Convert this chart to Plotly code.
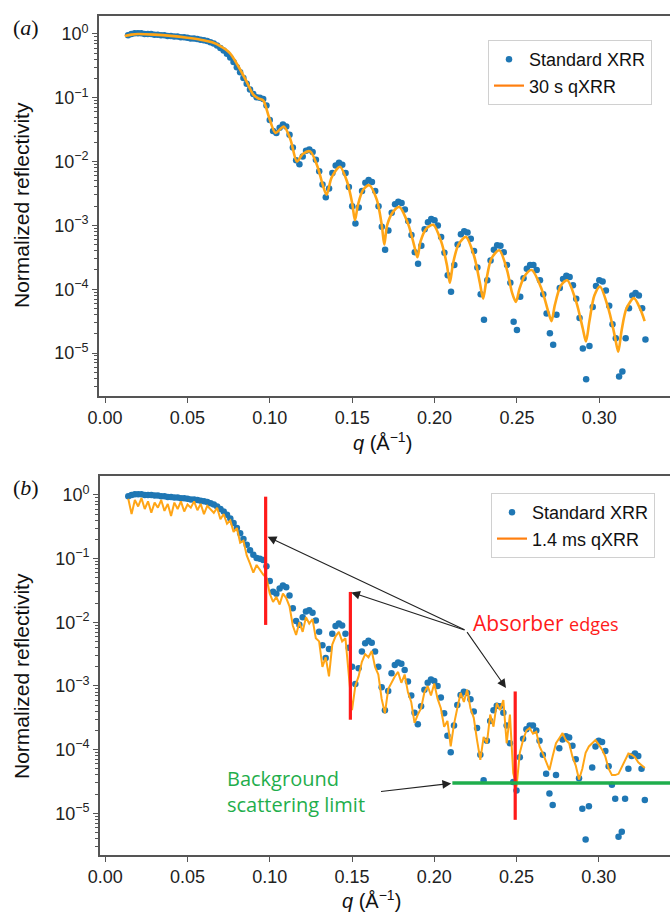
import plotly.graph_objects as go

# ---------------- data ----------------
# momentum transfer grid of the standard XRR scan (1/Angstrom)
Q = [0.014, 0.016, 0.018, 0.020, 0.022, 0.024, 0.026, 0.028, 0.030, 0.032,
     0.034, 0.036, 0.038, 0.040, 0.042, 0.044, 0.046, 0.048, 0.050, 0.052,
     0.054, 0.056, 0.058, 0.060, 0.062, 0.064, 0.066, 0.068, 0.070, 0.072,
     0.074, 0.076, 0.078, 0.080, 0.082, 0.084, 0.086, 0.088, 0.090, 0.092,
     0.094, 0.096, 0.098, 0.100, 0.102, 0.104, 0.106, 0.108, 0.110, 0.112,
     0.114, 0.116, 0.118, 0.120, 0.122, 0.124, 0.126, 0.128, 0.130, 0.132,
     0.134, 0.136, 0.138, 0.140, 0.142, 0.144, 0.146, 0.148, 0.150, 0.152,
     0.154, 0.156, 0.158, 0.160, 0.162, 0.164, 0.166, 0.168, 0.170, 0.172,
     0.174, 0.176, 0.178, 0.180, 0.182, 0.184, 0.186, 0.188, 0.190, 0.192,
     0.194, 0.196, 0.198, 0.200, 0.202, 0.204, 0.206, 0.208, 0.210, 0.212,
     0.214, 0.216, 0.218, 0.220, 0.222, 0.224, 0.226, 0.228, 0.230, 0.232,
     0.234, 0.236, 0.238, 0.240, 0.242, 0.244, 0.246, 0.248, 0.250, 0.252,
     0.254, 0.256, 0.258, 0.260, 0.262, 0.264, 0.266, 0.268, 0.270, 0.272,
     0.274, 0.276, 0.278, 0.280, 0.282, 0.284, 0.286, 0.288, 0.290, 0.292,
     0.294, 0.296, 0.298, 0.300, 0.302, 0.304, 0.306, 0.308, 0.310, 0.312,
     0.314, 0.316, 0.318, 0.320, 0.322, 0.324, 0.326, 0.328]

# log10 of normalized reflectivity, standard XRR
LOG_R_STANDARD = [
    -0.02, 0.00, 0.01, 0.01, 0.01, 0.00, 0.00, 0.00, -0.01, -0.01,
    -0.02, -0.02, -0.03, -0.03, -0.04, -0.04, -0.05, -0.05, -0.06, -0.07,
    -0.07, -0.08, -0.09, -0.10, -0.11, -0.13, -0.15, -0.18, -0.22, -0.26,
    -0.31, -0.37, -0.44, -0.52, -0.60, -0.69, -0.78, -0.87, -0.94, -0.99,
    -1.00, -1.02, -1.12, -1.35, -1.52, -1.55, -1.47, -1.42, -1.45, -1.58,
    -1.78, -1.98, -2.04, -1.92, -1.83, -1.81, -1.85, -1.97, -2.15, -2.36,
    -2.56, -2.42, -2.18, -2.06, -2.02, -2.05, -2.18, -2.40, -2.70, -2.97,
    -2.72, -2.46, -2.33, -2.29, -2.32, -2.46, -2.70, -3.02, -3.38, -3.08,
    -2.80, -2.67, -2.63, -2.65, -2.75, -2.93, -3.15, -3.42, -3.60, -3.32,
    -3.06, -2.95, -2.90, -2.92, -3.00, -3.18, -3.43, -3.78, -4.04, -3.62,
    -3.30, -3.14, -3.09, -3.11, -3.21, -3.40, -3.66, -4.08, -4.48, -3.86,
    -3.55, -3.38, -3.31, -3.32, -3.42, -3.62, -3.90, -4.51, -4.64, -4.12,
    -3.83, -3.68, -3.62, -3.62, -3.70, -3.86, -4.08, -4.38, -4.69, -4.87,
    -4.40, -3.98, -3.84, -3.79, -3.81, -3.94, -4.15, -4.45, -4.93, -5.41,
    -4.89, -4.28, -3.95, -3.86, -3.88, -4.02, -4.26, -4.55, -4.77, -5.37,
    -5.29, -4.77, -4.30, -4.10, -4.06, -4.10, -4.30, -4.79]

# log10 of normalized reflectivity, 1.4 ms quick XRR (same q grid)
LOG_R_FAST = [
    -0.06, -0.30, -0.08, -0.18, -0.05, -0.22, -0.10, -0.28, -0.12, -0.20,
    -0.08, -0.25, -0.14, -0.33, -0.12, -0.22, -0.10, -0.26, -0.15, -0.20,
    -0.10, -0.24, -0.14, -0.30, -0.17, -0.22, -0.28, -0.20, -0.38, -0.30,
    -0.45, -0.40, -0.58, -0.52, -0.75, -0.72, -0.95, -1.08, -1.22, -1.10,
    -1.18, -1.25, -1.30, -1.55, -1.68, -1.60, -1.72, -1.55, -1.62, -1.75,
    -2.05, -2.20, -2.00, -2.15, -1.92, -2.02, -1.95, -2.25, -2.30, -2.70,
    -2.55, -2.85, -2.35, -2.22, -2.15, -2.30, -2.25, -2.80, -3.38, -3.00,
    -2.85, -2.62, -2.50, -2.55, -2.45, -2.70, -2.82, -3.20, -3.43, -3.05,
    -2.95, -2.85, -2.78, -2.95, -2.82, -3.10, -3.25, -3.58, -3.45, -3.35,
    -3.10, -3.00, -3.15, -2.96, -3.20, -3.35, -3.64, -3.55, -3.95, -3.60,
    -3.35, -3.11, -3.25, -3.06, -3.35, -3.50, -3.85, -4.16, -3.80, -3.90,
    -3.45, -3.64, -3.27, -3.38, -3.22, -3.90, -3.45, -4.37, -4.58, -4.05,
    -3.85, -3.70, -3.66, -3.75, -3.72, -3.95, -4.06, -4.20, -4.32, -4.10,
    -3.90, -3.82, -3.74, -3.85, -3.90, -4.11, -4.25, -4.47, -4.30, -4.05,
    -3.95, -3.90, -3.85, -3.92, -4.00, -4.11, -4.30, -4.40, -4.40, -4.38,
    -4.27, -4.15, -4.06, -4.08, -4.12, -4.20, -4.25, -4.29]

# 30 s quick XRR: q and log10(R) along the measured curve
Q_SLOW = [0.012, 0.016, 0.020, 0.030, 0.040, 0.050, 0.058, 0.065, 0.070, 0.0758,
          0.081, 0.086, 0.090, 0.093, 0.096, 0.0995, 0.1035, 0.1085, 0.1125, 0.1165,
          0.1200, 0.1245, 0.1290, 0.1320, 0.1345, 0.1375, 0.1426, 0.1470, 0.1500, 0.1517,
          0.1535, 0.1565, 0.1604, 0.1650, 0.1680, 0.1695, 0.1712, 0.1745, 0.1786, 0.1840,
          0.1875, 0.1896, 0.1915, 0.1950, 0.1992, 0.2040, 0.2075, 0.2093, 0.2112, 0.2145,
          0.2190, 0.2240, 0.2275, 0.2295, 0.2315, 0.2345, 0.2393, 0.2440, 0.2470, 0.2494,
          0.2515, 0.2545, 0.2589, 0.2650, 0.2690, 0.2710, 0.2730, 0.2765, 0.2805, 0.2860,
          0.2900, 0.2919, 0.2940, 0.2970, 0.3004, 0.3060, 0.3095, 0.3115, 0.3135, 0.3165,
          0.3210, 0.3250, 0.3275]
LOG_R_SLOW = [-0.03, -0.01, 0.00, -0.01, -0.03, -0.06, -0.09, -0.13, -0.19, -0.30,
              -0.51, -0.75, -0.95, -1.01, -1.04, -1.30, -1.55, -1.45, -1.65, -2.00,
              -1.88, -1.84, -2.08, -2.35, -2.52, -2.25, -2.08, -2.32, -2.65, -2.92,
              -2.68, -2.45, -2.37, -2.60, -3.00, -3.30, -3.00, -2.80, -2.71, -2.98,
              -3.30, -3.50, -3.25, -3.05, -2.99, -3.25, -3.62, -3.90, -3.60, -3.30,
              -3.18, -3.48, -3.90, -4.15, -3.85, -3.52, -3.39, -3.70, -4.05, -4.20,
              -4.00, -3.80, -3.70, -4.00, -4.35, -4.50, -4.25, -3.95, -3.86, -4.20,
              -4.62, -4.82, -4.50, -4.10, -3.96, -4.35, -4.75, -4.98, -4.65, -4.30,
              -4.14, -4.32, -4.50]

# absorber edges: q position, lower and upper reflectivity of each marker
EDGE_Q = [0.0975, 0.149, 0.2492]
EDGE_LOW = [0.0091, 2.95e-4, 7.9e-6]
EDGE_HIGH = [0.94, 0.030, 8.2e-4]

# background scattering limit
BACKGROUND_LEVEL = 3.0e-5
BACKGROUND_Q = [0.211, 0.345]

X_TICKS = [0.00, 0.05, 0.10, 0.15, 0.20, 0.25, 0.30]
X_TICK_TEXT = ["0.00", "0.05", "0.10", "0.15", "0.20", "0.25", "0.30"]
Y_TICKS = [1, 1e-1, 1e-2, 1e-3, 1e-4, 1e-5]
Y_TICK_TEXT = ["10<sup>0</sup>", "10<sup>\u22121</sup>", "10<sup>\u22122</sup>",
               "10<sup>\u22123</sup>", "10<sup>\u22124</sup>", "10<sup>\u22125</sup>"]

# ---------------- figure ----------------
W, H = 670, 913
BLUE = "#1f77b4"
ORANGE_CURVE = "#ffa516"
ORANGE_KEY = "#ff7f0e"
RED = "#ff1a1a"
GREEN = "#1fae4c"
AXIS = "#555555"
SANS = "Liberation Sans, Arial, sans-serif"
HUMANIST = "Open Sans, Noto Sans, sans-serif"


def px(x):
    return x / W


def py(y):
    return 1 - y / H


r_std = [10 ** v for v in LOG_R_STANDARD]
r_fast = [10 ** v for v in LOG_R_FAST]
r_slow = [10 ** v for v in LOG_R_SLOW]

fig = go.Figure()

# panel (a)
fig.add_trace(go.Scatter(x=Q, y=r_std, mode="markers", name="Standard XRR",
                         marker=dict(color=BLUE, size=6.5, line=dict(width=0)),
                         xaxis="x", yaxis="y", legend="legend"))
fig.add_trace(go.Scatter(x=[None], y=[None], mode="lines", name="30 s qXRR",
                         line=dict(color=ORANGE_KEY, width=2.2),
                         xaxis="x", yaxis="y", legend="legend"))
fig.add_trace(go.Scatter(x=Q_SLOW, y=r_slow, mode="lines", showlegend=False,
                         line=dict(color=ORANGE_CURVE, width=2.6, shape="spline", smoothing=0.8),
                         xaxis="x", yaxis="y"))

# panel (b)
fig.add_trace(go.Scatter(x=Q, y=r_std, mode="markers", name="Standard XRR",
                         marker=dict(color=BLUE, size=6.5, line=dict(width=0)),
                         xaxis="x2", yaxis="y2", legend="legend2"))
fig.add_trace(go.Scatter(x=[None], y=[None], mode="lines", name="1.4 ms qXRR",
                         line=dict(color=ORANGE_KEY, width=2.2),
                         xaxis="x2", yaxis="y2", legend="legend2"))
fig.add_trace(go.Scatter(x=Q, y=r_fast, mode="lines", showlegend=False,
                         line=dict(color=ORANGE_CURVE, width=2.0),
                         xaxis="x2", yaxis="y2"))

for q, lo, hi in zip(EDGE_Q, EDGE_LOW, EDGE_HIGH):
    fig.add_trace(go.Scatter(x=[q, q], y=[lo, hi], mode="lines", showlegend=False,
                             line=dict(color=RED, width=3.2), xaxis="x2", yaxis="y2"))
fig.add_trace(go.Scatter(x=BACKGROUND_Q, y=[BACKGROUND_LEVEL, BACKGROUND_LEVEL],
                         mode="lines", showlegend=False,
                         line=dict(color=GREEN, width=3.5), xaxis="x2", yaxis="y2"))

minor_vals = [m * 10 ** k for k in range(-6, 1) for m in range(2, 10)]


def x_axis(domain, rng, anchor):
    return dict(domain=domain, range=rng, anchor=anchor, showline=True, linecolor=AXIS,
                linewidth=1.6, mirror=True, ticks="outside", ticklen=5, tickwidth=1.3,
                tickcolor=AXIS, tickmode="array", tickvals=X_TICKS, ticktext=X_TICK_TEXT,
                tickfont=dict(size=18, color="#222", family=SANS), showgrid=False,
                zeroline=False, automargin=False)


def y_axis(domain, rng, anchor):
    return dict(domain=domain, range=rng, anchor=anchor, type="log", showline=True,
                linecolor=AXIS, linewidth=1.6, ticks="outside", ticklen=5, tickwidth=1.3,
                tickcolor=AXIS, tickmode="array", tickvals=Y_TICKS, ticktext=Y_TICK_TEXT,
                tickfont=dict(size=18, color="#222", family=SANS), showgrid=False,
                zeroline=False, automargin=False,
                minor=dict(tickmode="array", tickvals=minor_vals, ticks="outside",
                           ticklen=3, tickwidth=1, tickcolor=AXIS, showgrid=False))


legend_style = dict(bgcolor="white", bordercolor="#d0d0d0", borderwidth=1,
                    font=dict(size=18, color="#111", family=SANS), xanchor="right",
                    yanchor="top", itemwidth=30, tracegroupgap=0)

fig.update_layout(
    width=W, height=H, margin=dict(l=0, r=0, t=0, b=0, autoexpand=False),
    paper_bgcolor="white", plot_bgcolor="white",
    font=dict(family=SANS, color="#111"),
    xaxis=x_axis([px(99), 1.0], [-0.00364, 0.3429], "y"),
    yaxis=y_axis([py(396), py(16)], [-5.674, 0.282], "x"),
    xaxis2=x_axis([px(100), 1.0], [-0.0032, 0.3433], "y2"),
    yaxis2=y_axis([py(855), py(476)], [-5.655, 0.298], "x2"),
    legend=dict(x=px(652), y=py(40), **legend_style),
    legend2=dict(x=px(655), y=py(493), **legend_style),
)


def label(text, x, y, size, family=SANS, color="#111", angle=0, xanchor="center"):
    return dict(text=text, x=px(x), y=py(y), xref="paper", yref="paper", showarrow=False,
                xanchor=xanchor, yanchor="middle", textangle=angle,
                font=dict(size=size, family=family, color=color))


ann = []
# panel labels
ann.append(label("(<i>a</i>)", 26, 28, 22, family="Liberation Serif, serif"))
ann.append(label("(<i>b</i>)", 26, 487, 22, family="Liberation Serif, serif"))
# axis titles
for yc in (205, 676):
    ann.append(label("Normalized reflectivity", 21, yc, 21, angle=-90))
for xc, yc in ((382, 441), (371, 899)):
    ann.append(label("<i>q</i> (\u00c5<sup>\u22121</sup>)", xc, yc, 20))

# arrows towards the absorber edges and the background level
arrow_tail = (0.2193, -2.13)
for head in ((0.0987, -0.655), (0.1495, -1.53), (0.2436, -3.03)):
    ann.append(dict(text="", x=head[0], y=head[1], ax=arrow_tail[0], ay=arrow_tail[1],
                    xref="x2", yref="y2", axref="x2", ayref="y2", showarrow=True,
                    arrowhead=2, arrowsize=1.6, arrowwidth=1.1, arrowcolor="#222",
                    standoff=0, startstandoff=0))
ann.append(dict(text="", x=0.2103, y=-4.53, ax=0.1667, ay=-4.66,
                xref="x2", yref="y2", axref="x2", ayref="y2", showarrow=True,
                arrowhead=2, arrowsize=1.6, arrowwidth=1.1, arrowcolor="#222",
                standoff=0, startstandoff=0))

ann.append(label("Absorber <span style='font-size:18px'>edges</span>", 471, 623, 21,
                 family=HUMANIST, color=RED, xanchor="left"))
bg = label("Background<br>scattering limit", 225, 791, 20, family=HUMANIST, color=GREEN,
           xanchor="left")
bg["align"] = "left"
ann.append(bg)

fig.update_layout(annotations=ann)

fig.write_html("out.html")
